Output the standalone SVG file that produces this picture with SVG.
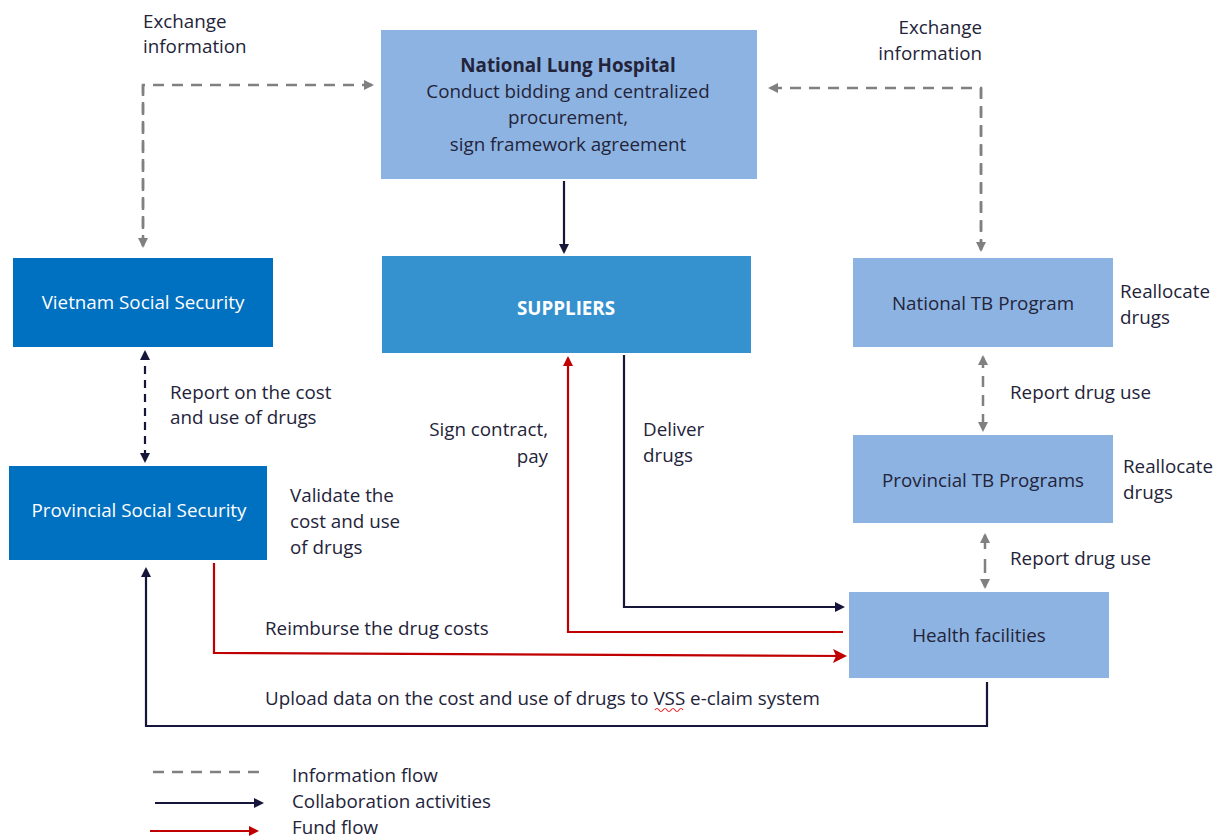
<svg xmlns="http://www.w3.org/2000/svg" width="1224" height="840" viewBox="0 0 1224 840">
<style>
text{font-family:"Open Sans","Liberation Sans",sans-serif;font-size:18.8px;fill:#23233a}
.w{fill:#fff}
.b{font-weight:bold}
.c{text-anchor:middle}
.r{text-anchor:end}
.light{fill:#8DB3E2}
.dark{fill:#0070C0}
.mid{fill:#3691CF}
.info{fill:none;stroke:#808080;stroke-width:2.5;stroke-dasharray:11 8}
.collab{fill:none;stroke:#16163a;stroke-width:2.2}
.fund{fill:none;stroke:#C00000;stroke-width:2.2}
</style>
<defs>
<marker id="agx" markerWidth="10" markerHeight="10" refX="8" refY="5" orient="auto-start-reverse" markerUnits="userSpaceOnUse"><path d="M0,0 L10,5 L0,10 Z" fill="#808080"/></marker>
<marker id="ad" markerWidth="10" markerHeight="10" refX="8" refY="5" orient="auto-start-reverse" markerUnits="userSpaceOnUse"><path d="M0,0 L10,5 L0,10 Z" fill="#16163a"/></marker>
<marker id="ar" markerWidth="10" markerHeight="10" refX="8" refY="5" orient="auto-start-reverse" markerUnits="userSpaceOnUse"><path d="M0,0 L10,5 L0,10 Z" fill="#C00000"/></marker>
<marker id="ar2" markerWidth="14" markerHeight="14" refX="12" refY="7" orient="auto" markerUnits="userSpaceOnUse"><path d="M0,0 L14,7 L0,14 L3,7 Z" fill="#C00000"/></marker>
</defs>

<g id="connectors">
<path class="info" d="M143,246 V85 H372" marker-end="url(#agx)"/>
<path class="info" d="M143,85 V246" marker-end="url(#agx)"/>
<path class="info" d="M981,250 V88 H770" marker-end="url(#agx)"/>
<path class="info" d="M981,88 V250" marker-end="url(#agx)"/>
<path class="collab" d="M564,181 V252" marker-end="url(#ad)"/>
<path class="collab" d="M145,352 V461" style="stroke-dasharray:8 6" marker-start="url(#ad)" marker-end="url(#ad)"/>
<path class="info" d="M983,357 V430" marker-start="url(#agx)" marker-end="url(#agx)"/>
<path class="info" d="M985,535 V587" style="stroke-dasharray:14 10" marker-start="url(#agx)" marker-end="url(#agx)"/>
<path class="fund" d="M843,632 H568 V358" marker-end="url(#ar)"/>
<path class="collab" d="M624,355 V607 H843" marker-end="url(#ad)"/>
<path class="fund" d="M214,563 V653 L845,656" marker-end="url(#ar2)"/>
<path class="collab" d="M987,682 V726 H146 V569" marker-end="url(#ad)"/>
</g>

<g id="national-lung-hospital">
<rect class="light" x="381" y="30" width="376" height="149"/>
<text class="c b" x="568" y="72">National Lung Hospital</text>
<text class="c" x="568" y="98">Conduct bidding and centralized</text>
<text class="c" x="568" y="124">procurement,</text>
<text class="c" x="568" y="151">sign framework agreement</text>
</g>

<g id="suppliers">
<rect class="mid" x="382" y="256" width="369" height="97"/>
<text class="c b w" x="566" y="315">SUPPLIERS</text>
</g>

<g id="vietnam-social-security">
<rect class="dark" x="13" y="258" width="260" height="89"/>
<text class="c w" x="143" y="309">Vietnam Social Security</text>
</g>

<g id="provincial-social-security">
<rect class="dark" x="9" y="466" width="258" height="94"/>
<text class="c w" x="139" y="517">Provincial Social Security</text>
</g>

<g id="national-tb-program">
<rect class="light" x="853" y="258" width="260" height="89"/>
<text class="c" x="983" y="310">National TB Program</text>
</g>

<g id="provincial-tb-programs">
<rect class="light" x="853" y="435" width="260" height="88"/>
<text class="c" x="983" y="487">Provincial TB Programs</text>
</g>

<g id="health-facilities">
<rect class="light" x="849" y="592" width="260" height="86"/>
<text class="c" x="979" y="642">Health facilities</text>
</g>

<g id="labels">
<text x="143" y="28">Exchange</text>
<text x="143" y="53">information</text>
<text class="r" x="982" y="34">Exchange</text>
<text class="r" x="982" y="60">information</text>
<text x="170" y="399">Report on the cost</text>
<text x="170" y="424">and use of drugs</text>
<text class="r" x="548" y="436">Sign contract,</text>
<text class="r" x="548" y="463">pay</text>
<text x="643" y="436">Deliver</text>
<text x="643" y="462">drugs</text>
<text x="290" y="502">Validate the</text>
<text x="290" y="528">cost and use</text>
<text x="290" y="554">of drugs</text>
<text x="265" y="635">Reimburse the drug costs</text>
<text x="265" y="705">Upload data on the cost and use of drugs to VSS e-claim system</text>
<path d="M655,710 q2,-3 4,0 t4,0 t4,0 t4,0 t4,0 t4,0 t4,0" fill="none" stroke="#e03030" stroke-width="1.2"/>
<text x="1120" y="298">Reallocate</text>
<text x="1120" y="324">drugs</text>
<text x="1123" y="473">Reallocate</text>
<text x="1123" y="499">drugs</text>
<text x="1010" y="399">Report drug use</text>
<text x="1010" y="565">Report drug use</text>
</g>

<g id="legend">
<line class="info" x1="153" y1="772" x2="267" y2="772"/>
<line class="collab" x1="155" y1="803" x2="262" y2="803" marker-end="url(#ad)"/>
<line class="fund" x1="150" y1="831" x2="257" y2="831" marker-end="url(#ar)"/>
<text x="292" y="782">Information flow</text>
<text x="292" y="808">Collaboration activities</text>
<text x="292" y="834">Fund flow</text>
</g>
</svg>
